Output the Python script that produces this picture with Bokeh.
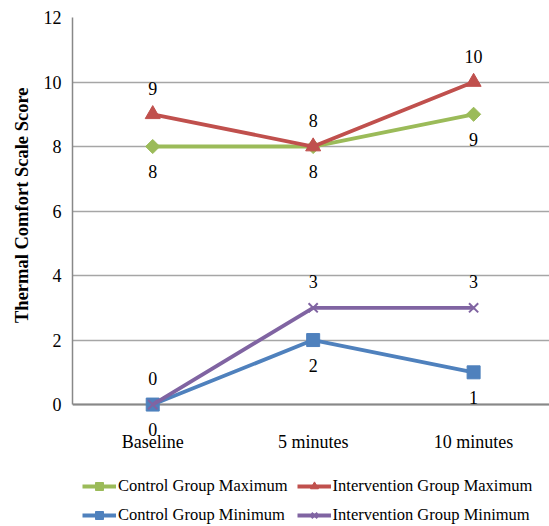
import math
from bokeh.plotting import figure
from bokeh.models import Range1d, FixedTicker, Legend, LegendItem, Span, Title
from bokeh.core.properties import value
from bokeh.embed import file_html
from bokeh.resources import INLINE

# ---- data ----
categories = ["Baseline", "5 minutes", "10 minutes"]
control_max = [8, 8, 9]
intervention_max = [9, 8, 10]
control_min = [0, 2, 1]
intervention_min = [0, 3, 3]
y_ticks = [0, 2, 4, 6, 8, 10, 12]
series_names = ["Control Group Maximum", "Intervention Group Maximum",
                "Control Group Minimum", "Intervention Group Minimum"]
y_title = "Thermal Comfort Scale Score"

FONT = "Liberation Serif"
xs = list(range(len(categories)))

p = figure(width=549, height=526, output_backend="svg", toolbar_location=None,
           x_range=Range1d(-0.5, 2.473), y_range=Range1d(-3.78, 12),
           min_border_top=17, min_border_bottom=0, min_border_left=72,
           min_border_right=0)
p.outline_line_color = None
p.background_fill_color = "white"
p.border_fill_color = "white"

# grid
p.xgrid.visible = False
p.ygrid.ticker = FixedTicker(ticks=y_ticks)
p.ygrid.grid_line_color = "#A6A6A6"
p.ygrid.grid_line_width = 1.3

# y axis
p.yaxis.ticker = FixedTicker(ticks=y_ticks)
p.yaxis.bounds = (0, 12)
p.yaxis.axis_line_color = "#888888"
p.yaxis.axis_line_width = 1.5
p.yaxis.major_tick_out = 0
p.yaxis.major_tick_in = 0
p.yaxis.minor_tick_out = 0
p.yaxis.minor_tick_in = 0
p.yaxis.major_label_standoff = 11
p.yaxis.major_label_text_font = FONT
p.yaxis.major_label_text_font_size = "18px"
p.yaxis.major_label_text_color = "black"

# y title (end of text placed near the top of the 0-12 axis)
p.add_layout(Title(text=y_title, align="right", offset=70, standoff=18,
                   text_font=FONT, text_font_style="bold",
                   text_font_size="18.5px", text_color="black"), "left")

# x axis, fixed just under the zero line
p.xaxis.ticker = FixedTicker(ticks=xs)
p.xaxis.major_label_overrides = {i: c for i, c in enumerate(categories)}
p.xaxis.fixed_location = -0.85
p.xaxis.axis_line_color = None
p.xaxis.major_tick_out = 0
p.xaxis.major_tick_in = 0
p.xaxis.minor_tick_out = 0
p.xaxis.minor_tick_in = 0
p.xaxis.major_label_standoff = 0
p.xaxis.major_label_text_font = FONT
p.xaxis.major_label_text_font_size = "18px"
p.xaxis.major_label_text_color = "black"

# baseline at zero
p.add_layout(Span(location=0, dimension="width", line_color="#888888",
                  line_width=2, level="underlay"))

series = [control_max, intervention_max, control_min, intervention_min]
styles = [
    dict(color="#9BBB59", marker="square", angle=math.pi / 4, size=10, pos="below"),
    dict(color="#C0504D", marker="triangle", angle=0, size=15, pos="above"),
    dict(color="#4F81BD", marker="square", angle=0, size=13, pos="below"),
    dict(color="#8064A2", marker="x", angle=0, size=13, pos="above"),
]

items = []
for name, vals, st in zip(series_names, series, styles):
    lr = p.line(xs, vals, line_color=st["color"], line_width=3.8)
    if st["marker"] == "x":
        sr = p.scatter(xs, vals, marker="x", size=st["size"], line_color=st["color"],
                       line_width=2)
    else:
        sr = p.scatter(xs, vals, marker=st["marker"], size=st["size"],
                       angle=st["angle"], fill_color=st["color"],
                       line_color=st["color"], line_width=1)
    items.append(LegendItem(label=name, renderers=[lr, sr]))

# data labels (drawn after all series)
for vals, st in zip(series, styles):
    p.text(xs, vals, text=[str(v) for v in vals],
           y_offset=(-26 if st["pos"] == "above" else 25),
           text_align="center", text_baseline="middle",
           text_font=value(FONT), text_font_size="18px", text_color="black")

legend = Legend(items=items, location=(10, 1), orientation="horizontal", ncols=2,
                padding=0, margin=0, spacing=9, glyph_width=34, glyph_height=20,
                label_height=20, label_standoff=2,
                border_line_color=None, background_fill_alpha=0,
                label_text_font=FONT, label_text_font_size="16.5px",
                label_text_color="black")
p.add_layout(legend, "center")

open("out.html", "w").write(file_html(p, INLINE))
